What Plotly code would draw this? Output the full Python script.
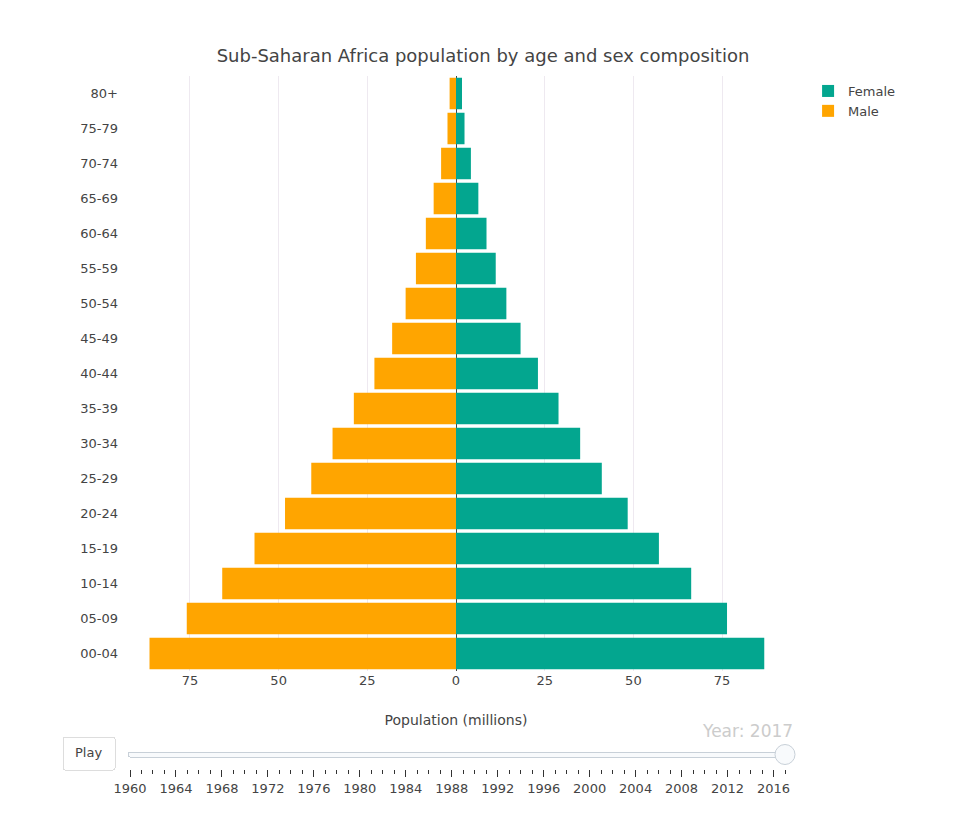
import plotly.graph_objects as go

age_groups = ["00-04", "05-09", "10-14", "15-19", "20-24", "25-29", "30-34", "35-39",
              "40-44", "45-49", "50-54", "55-59", "60-64", "65-69", "70-74", "75-79", "80+"]
female = [86.9, 76.4, 66.3, 57.2, 48.4, 41.1, 35.0, 28.9, 23.1, 18.2, 14.2, 11.2, 8.6, 6.3, 4.2, 2.4, 1.7]
male = [86.4, 75.9, 65.9, 56.8, 48.2, 40.8, 34.8, 28.8, 23.0, 18.0, 14.2, 11.3, 8.5, 6.3, 4.2, 2.4, 1.8]
years = list(range(1960, 2018))
current_year = 2017
tick_vals = [-75, -50, -25, 0, 25, 50, 75]
tick_text = ["75", "50", "25", "0", "25", "50", "75"]

FEMALE_C = "#03A68F"
MALE_C = "#FFA500"
FONT = "Verdana, DejaVu Sans, sans-serif"

fig = go.Figure()
fig.add_trace(go.Bar(y=age_groups, x=female, orientation="h", name="Female",
                     marker=dict(color=FEMALE_C, line=dict(width=0))))
fig.add_trace(go.Bar(y=age_groups, x=[-v for v in male], orientation="h", name="Male",
                     marker=dict(color=MALE_C, line=dict(width=0))))

steps = [dict(method="skip", label=str(y), args=[[str(y)]]) for y in years]

fig.update_layout(
    width=950, height=823,
    font=dict(family=FONT, color="#444", size=13),
    title=dict(text="Sub-Saharan Africa population by age and sex composition",
               x=0.5, xanchor="center", y=0.9417, yanchor="middle",
               font=dict(size=18, color="#444", family=FONT)),
    barmode="relative", bargap=0.1,
    plot_bgcolor="white", paper_bgcolor="white",
    margin=dict(l=122, r=176, t=67.5, b=159.5),
    xaxis=dict(range=[-91.9, 91.9], tickvals=tick_vals, ticktext=tick_text,
               showgrid=True, gridcolor="#EEE9F0", gridwidth=1,
               zeroline=True, zerolinecolor="#444", zerolinewidth=1,
               title=dict(text="Population (millions)", font=dict(size=14), standoff=28),
               tickfont=dict(size=13), fixedrange=True),
    yaxis=dict(type="category", showgrid=False, zeroline=False, tickfont=dict(size=13),
               ticklabelstandoff=11,
               categoryorder="array", categoryarray=age_groups, fixedrange=True),
    legend=dict(x=1.04, y=1, xanchor="left", yanchor="top", traceorder="normal",
                font=dict(size=13)),
    updatemenus=[dict(
        type="buttons", direction="left", showactive=False,
        x=0, xanchor="right", y=0, yanchor="top",
        pad=dict(t=65, r=16),
        bgcolor="white", bordercolor="#ddd", borderwidth=1,
        font=dict(size=13, color="#444"),
        buttons=[dict(label="Play", method="animate",
                      args=[None, dict(frame=dict(duration=500, redraw=False),
                                       fromcurrent=True)])])],
    sliders=[dict(
        active=len(years) - 1,
        x=-0.0146, len=1.035, y=0, yanchor="top", xanchor="left",
        pad=dict(t=43.5, b=10, l=0, r=0),
        currentvalue=dict(visible=True, prefix="Year: ", xanchor="right",
                          font=dict(size=17, color="#ccc")),
        font=dict(size=13, color="#444"),
        bgcolor="#f8fafc", bordercolor="#c8d0d8", borderwidth=1,
        tickcolor="#333", ticklen=7, minorticklen=4,
        transition=dict(duration=0),
        steps=steps)],
)

fig.write_html("out.html")
